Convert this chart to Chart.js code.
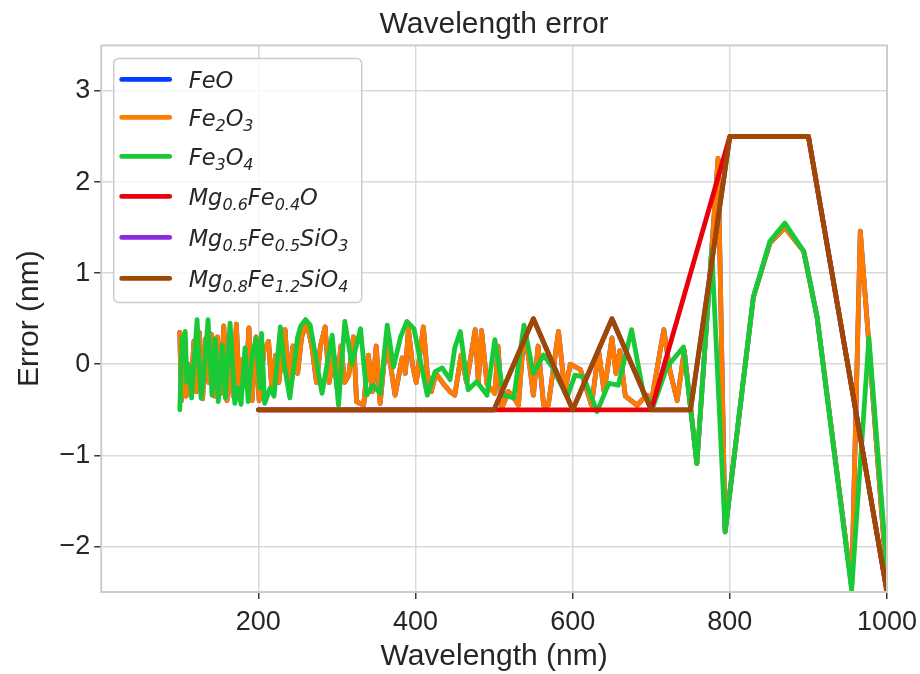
<!DOCTYPE html>
<html>
<head>
<meta charset="utf-8">
<script src="https://cdn.jsdelivr.net/npm/chart.js@4.4.1/dist/chart.umd.min.js"></script>
<style>
  html, body { margin: 0; padding: 0; background: #fff; }
  #wrap { width: 920px; height: 674px; }
</style>
</head>
<body>
<div id="wrap"><canvas id="chart" width="920" height="674"></canvas></div>
<script>
// Fe2O3 (orange) - FeO (blue) lies exactly under it and is never visible
let fe2o3X = [100,102,105,108,111,114,118,121,125,129,133,137,140,144,148,152,156,160,164,168,
  172,176,180,184,188,192,197,201,207,213,217,222,226,234,238,244,250,255,262,268,
  274,279,285,290,296,300,305,310,315,321,325,334,340,345,350,355,362,368,374,383,
  387,391,396,401,410,415,420,426,436,444,450,458,465,476,480,484,491,501,505,510,
  518,524,531,538,544,550,556,563,569,582,590,597,610,624,633,640,650,655,660,667,
  682,694,701,716,724,733,742,758,785,794,830,851,870,894,911,955,966,1000];
let fe2o3Y = [0.35,-0.40,0.33,-0.35,0.00,-0.33,0.25,-0.30,0.35,-0.38,0.28,-0.20,0.33,-0.35,0.30,-0.32,0.42,-0.40,0.05,-0.35,
  0.44,-0.35,0.05,-0.25,0.40,-0.40,0.30,-0.40,0.15,0.25,-0.26,0.10,-0.20,0.38,-0.20,0.20,-0.10,0.30,0.45,0.20,
  -0.20,0.20,0.41,-0.20,0.10,-0.25,0.20,-0.20,-0.12,0.30,-0.41,-0.45,0.10,-0.30,0.20,-0.43,0.20,0.00,-0.34,0.07,
  -0.10,0.39,0.00,-0.20,0.41,-0.10,-0.30,-0.10,-0.22,-0.30,-0.34,0.10,-0.20,0.38,-0.20,0.37,-0.22,-0.32,0.20,-0.48,
  -0.30,-0.35,-0.45,0.35,0.07,-0.34,0.20,-0.45,-0.45,0.36,-0.30,0.00,-0.06,-0.45,0.15,-0.30,0.29,-0.10,0.15,-0.35,
  -0.45,-0.34,-0.37,0.38,-0.08,-0.40,0.15,-1.09,2.26,-1.84,0.74,1.33,1.50,1.24,0.52,-2.44,1.46,-2.40];
let feoX = fe2o3X.slice();
let feoY = fe2o3Y.slice();

// Fe3O4 (green)
let fe3o4X = [100,103,105,107,109,112,115,122,127,131,136,141,145,149,154,158,164,170,174,178,
  183,187,192,197,202,204,208,215,220,228,233,240,250,254,260,266,281,294,302,310,
  319,330,338,346,355,364,372,381,389,398,415,425,434,444,450,457,467,478,491,501,
  512,525,538,550,563,574,593,603,614,631,646,658,675,690,703,720,741,758,777,794,
  830,851,870,894,911,955,977,1000];
let fe3o4Y = [-0.50,0.30,0.05,0.36,-0.20,-0.02,-0.37,0.49,-0.37,-0.08,0.49,-0.34,0.28,-0.41,0.21,-0.37,0.45,-0.43,-0.26,-0.44,
  0.18,-0.41,0.10,0.28,-0.26,0.34,-0.43,-0.26,-0.35,0.41,-0.01,-0.37,0.30,0.42,0.49,0.43,-0.32,0.32,-0.45,0.47,
  0.00,0.39,-0.34,-0.23,-0.32,0.43,-0.03,0.30,0.47,0.39,-0.34,-0.08,-0.04,-0.17,0.18,0.36,-0.28,-0.19,-0.34,0.27,
  -0.34,-0.37,0.43,-0.10,0.10,-0.03,-0.36,-0.12,-0.14,-0.52,-0.21,-0.23,0.38,-0.32,-0.45,-0.03,0.19,-1.09,1.25,-1.84,
  0.74,1.35,1.55,1.24,0.52,-2.48,0.29,-2.26];

// Mg compounds, sampled every 50 nm
let mgX = [200,250,300,350,400,450,500,550,600,650,700,750,800,850,900,950,1000];
let mg06Y = [-0.5,-0.5,-0.5,-0.5,-0.5,-0.5,-0.5,-0.5,-0.5,-0.5,-0.5,1.0,2.5,2.5,2.5,0.0,-2.5];
let mg08Y = [-0.5,-0.5,-0.5,-0.5,-0.5,-0.5,-0.5,0.5,-0.5,0.5,-0.5,-0.5,2.5,2.5,2.5,0.0,-2.5];
// Mg0.5Fe0.5SiO3 (purple) is hidden under the brown line
let mg05Y = mg08Y.slice();

let xTicks = [200, 400, 600, 800, 1000];
let yTicks = [-2, -1, 0, 1, 2, 3];

// legend labels, [text, isSubscript]
let legendItems = [
  {color: '#023eff', parts: [['FeO', 0]]},
  {color: '#ff7c00', parts: [['Fe', 0], ['2', 1], ['O', 0], ['3', 1]]},
  {color: '#1ac938', parts: [['Fe', 0], ['3', 1], ['O', 0], ['4', 1]]},
  {color: '#e8000b', parts: [['Mg', 0], ['0.6', 1], ['Fe', 0], ['0.4', 1], ['O', 0]]},
  {color: '#8b2be2', parts: [['Mg', 0], ['0.5', 1], ['Fe', 0], ['0.5', 1], ['SiO', 0], ['3', 1]]},
  {color: '#9f4800', parts: [['Mg', 0], ['0.8', 1], ['Fe', 0], ['1.2', 1], ['SiO', 0], ['4', 1]]},
];

const textColor = '#262626';
const gridColor = '#d9d9d9';
const sans = '"Liberation Sans", Arial, sans-serif';

function toPoints(xs, ys) {
  return xs.map((x, i) => ({x: x, y: ys[i]}));
}

function makeSet(label, xs, ys, color, order) {
  return {
    label: label,
    data: toPoints(xs, ys),
    borderColor: color,
    backgroundColor: color,
    borderWidth: 4.8,
    borderJoinStyle: 'round',
    borderCapStyle: 'round',
    pointRadius: 0,
    tension: 0,
    fill: false,
    order: order
  };
}

// Frame (all four spines)
const framePlugin = {
  id: 'frame',
  afterDatasetsDraw(chart) {
    let a = chart.chartArea;
    let ctx = chart.ctx;
    ctx.save();
    ctx.strokeStyle = '#cccccc';
    ctx.lineWidth = 2;
    ctx.strokeRect(a.left, a.top, a.right - a.left, a.bottom - a.top);
    ctx.restore();
  }
};

// Legend with subscripts, like matplotlib mathtext
const legendPlugin = {
  id: 'mathLegend',
  afterDraw(chart) {
    let a = chart.chartArea;
    let ctx = chart.ctx;
    let x0 = a.left + 12.5;
    let y0 = a.top + 13;
    let rowY = [21, 59, 98, 138, 179, 220];
    ctx.save();
    ctx.beginPath();
    ctx.roundRect(x0, y0, 248, 244, 5);
    ctx.fillStyle = 'rgba(255,255,255,0.8)';
    ctx.fill();
    ctx.strokeStyle = '#cccccc';
    ctx.lineWidth = 1.5;
    ctx.stroke();

    legendItems.forEach((item, i) => {
      let cy = y0 + rowY[i];
      ctx.beginPath();
      ctx.moveTo(x0 + 8, cy);
      ctx.lineTo(x0 + 56, cy);
      ctx.strokeStyle = item.color;
      ctx.lineWidth = 4.8;
      ctx.lineCap = 'round';
      ctx.stroke();

      let tx = x0 + 75;
      let base = cy + 9;
      ctx.fillStyle = textColor;
      ctx.textBaseline = 'alphabetic';
      ctx.textAlign = 'left';
      item.parts.forEach(p => {
        if (p[1]) {
          ctx.font = 'italic 16px "DejaVu Sans"';
          ctx.fillText(p[0], tx, base + 5);
        } else {
          ctx.font = 'italic 22.5px "DejaVu Sans"';
          ctx.fillText(p[0], tx, base);
        }
        tx += ctx.measureText(p[0]).width;
      });
    });
    ctx.restore();
  }
};

let ctx = document.getElementById('chart');

let chart = new Chart(ctx, {
  type: 'line',
  data: {
    datasets: [
      makeSet('FeO', feoX, feoY, '#023eff', 6),
      makeSet('Fe2O3', fe2o3X, fe2o3Y, '#ff7c00', 5),
      makeSet('Fe3O4', fe3o4X, fe3o4Y, '#1ac938', 4),
      makeSet('Mg0.6Fe0.4O', mgX, mg06Y, '#e8000b', 3),
      makeSet('Mg0.5Fe0.5SiO3', mgX, mg05Y, '#8b2be2', 2),
      makeSet('Mg0.8Fe1.2SiO4', mgX, mg08Y, '#9f4800', 1)
    ]
  },
  options: {
    responsive: false,
    animation: false,
    devicePixelRatio: 1,
    layout: {padding: {left: 0, right: 33, top: 0, bottom: 0}},
    plugins: {
      legend: {display: false},
      tooltip: {enabled: false},
      title: {
        display: true,
        text: 'Wavelength error',
        fullSize: false,
        color: textColor,
        font: {family: sans, size: 30, weight: 'normal', lineHeight: 1.2},
        padding: {top: 7, bottom: 2.4}
      }
    },
    scales: {
      x: {
        type: 'linear',
        min: 0,
        max: 1000,
        afterBuildTicks: s => { s.ticks = xTicks.map(v => ({value: v})); },
        afterFit: s => { s.height = 82; s.paddingRight = 0; },
        grid: {color: gridColor, lineWidth: 1.5, tickColor: '#3a3a3a', tickLength: 7, tickWidth: 1.5},
        border: {display: false},
        ticks: {
          color: textColor,
          padding: 7,
          maxRotation: 0,
          font: {family: sans, size: 27},
          callback: v => '' + v
        },
        title: {
          display: true,
          text: 'Wavelength (nm)',
          color: textColor,
          font: {family: sans, size: 30, lineHeight: 1.0},
          padding: {top: 0, bottom: 2}
        }
      },
      y: {
        type: 'linear',
        min: -2.5,
        max: 3.5,
        afterBuildTicks: s => { s.ticks = yTicks.map(v => ({value: v})); },
        afterFit: s => { s.width = 101.2; },
        grid: {color: gridColor, lineWidth: 1.5, tickColor: '#3a3a3a', tickLength: 7, tickWidth: 1.5},
        border: {display: false},
        ticks: {
          color: textColor,
          padding: 4,
          font: {family: sans, size: 27},
          callback: v => (v < 0 ? '\u2212' + Math.abs(v) : '' + v)
        },
        title: {
          display: true,
          text: 'Error (nm)',
          color: textColor,
          font: {family: sans, size: 30, lineHeight: 1.2},
          padding: {top: 12, bottom: 0}
        }
      }
    }
  },
  plugins: [framePlugin, legendPlugin]
});
</script>
</body>
</html>
